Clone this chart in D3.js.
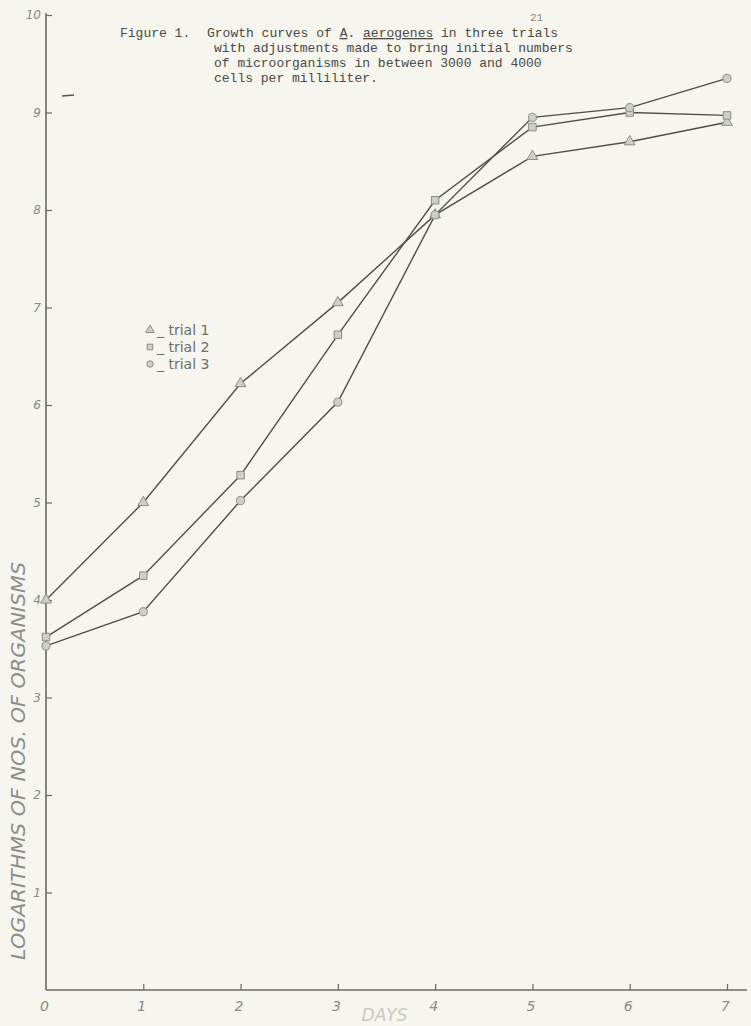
<!DOCTYPE html>
<html><head><meta charset="utf-8">
<script src="https://cdn.jsdelivr.net/npm/d3@7"></script>
<style>
html,body{margin:0;padding:0;background:#f6f5ee;}
svg{display:block;}
</style></head>
<body>
<svg id="chart" width="751" height="1026"></svg>
<script>
// ---- data ----
const days = [0, 1, 2, 3, 4, 5, 6, 7];
const trial1 = [4.0, 5.0, 6.22, 7.05, 7.95, 8.55, 8.7, 8.9];
const trial2 = [3.62, 4.25, 5.28, 6.72, 8.1, 8.85, 9.0, 8.97];
const trial3 = [3.53, 3.88, 5.02, 6.03, 7.95, 8.95, 9.05, 9.35];
const seriesNames = ["trial 1", "trial 2", "trial 3"];
const xTicks = [0, 1, 2, 3, 4, 5, 6, 7];
const yTicks = [1, 2, 3, 4, 5, 6, 7, 8, 9, 10];
const titleLines = [
  "with adjustments made to bring initial numbers",
  "of microorganisms in between 3000 and 4000",
  "cells per milliliter."
];

const svg = d3.select("#chart");
const W = 751, H = 1026;
svg.append("rect").attr("width", W).attr("height", H).attr("fill", "#f6f5ee");

const x = d3.scaleLinear().domain([0, 7]).range([46, 727]);
const y = d3.scaleLinear().domain([0, 10]).range([990, 15]);

const axisColor = "#6a6a66";
const labelColor = "#8a8a86";

// axis lines
svg.append("line").attr("x1", x(0)).attr("x2", x(7) + 20)
  .attr("y1", y(0)).attr("y2", y(0)).attr("stroke", axisColor).attr("stroke-width", 1.6);
svg.append("line").attr("x1", x(0)).attr("x2", x(0))
  .attr("y1", y(0)).attr("y2", y(10) - 2).attr("stroke", axisColor).attr("stroke-width", 1.6);

// x axis ticks (inward)
const gx = svg.append("g").attr("transform", `translate(0,${y(0)})`)
  .call(d3.axisBottom(x).tickValues(xTicks).tickSizeInner(-6).tickSizeOuter(0).tickPadding(11)
    .tickFormat(d3.format("d")));
gx.select(".domain").remove();
gx.selectAll(".tick line").attr("stroke", axisColor).attr("stroke-width", 1.2);
gx.selectAll(".tick line").filter(d => d === 0).remove();
gx.selectAll(".tick text").attr("fill", labelColor).attr("font-family", "DejaVu Sans")
  .attr("font-style", "italic").attr("font-size", 14).attr("dx", -2);

// y axis ticks (inward)
const gy = svg.append("g").attr("transform", `translate(${x(0)},0)`)
  .call(d3.axisLeft(y).tickValues(yTicks).tickSizeInner(-6).tickSizeOuter(0).tickPadding(5)
    .tickFormat(d3.format("d")));
gy.select(".domain").remove();
gy.selectAll(".tick line").attr("stroke", axisColor).attr("stroke-width", 1.2);
gy.selectAll(".tick text").attr("fill", labelColor).attr("font-family", "DejaVu Sans")
  .attr("font-style", "italic").attr("font-size", 12);

// axis titles
svg.append("text")
  .attr("transform", `translate(25,${(y(0.3) + y(4.4)) / 2}) rotate(-90)`)
  .attr("text-anchor", "middle").attr("fill", "#8d8d89")
  .attr("font-family", "DejaVu Sans").attr("font-style", "italic").attr("font-size", 19)
  .attr("textLength", 398).attr("lengthAdjust", "spacingAndGlyphs")
  .text("LOGARITHMS OF NOS. OF ORGANISMS");
svg.append("text").attr("x", (x(3) + x(4)) / 2 - 2).attr("y", 1021)
  .attr("text-anchor", "middle").attr("fill", "#c9c9c2")
  .attr("font-family", "DejaVu Sans").attr("font-style", "italic").attr("font-size", 17)
  .text("DAYS");

// series
const series = [trial1, trial2, trial3].map((vals, i) => ({
  name: seriesNames[i], shape: i,
  pts: days.map((d, j) => ({ d, v: vals[j] }))
}));
const line = d3.line().x(p => x(p.d)).y(p => y(p.v));
svg.append("g").selectAll("path").data(series).join("path")
  .attr("d", s => line(s.pts)).attr("fill", "none")
  .attr("stroke", "#4f4f4c").attr("stroke-width", 1.4);

const symTypes = [d3.symbolTriangle, d3.symbolSquare, d3.symbolCircle];
const symSizes = [50, 56, 52];
const mfill = "#cfcfca", mstroke = "#8c8c88";
series.forEach(s => {
  svg.append("g").selectAll("path").data(s.pts).join("path")
    .attr("transform", p => `translate(${x(p.d)},${y(p.v)})`)
    .attr("d", d3.symbol().type(symTypes[s.shape]).size(symSizes[s.shape]))
    .attr("fill", mfill).attr("stroke", mstroke).attr("stroke-width", 1);
});

// legend
const lg = svg.append("g").attr("transform", "translate(150,330)");
series.forEach((s, i) => {
  const row = lg.append("g").attr("transform", `translate(0,${i * 17})`);
  row.append("path").attr("d", d3.symbol().type(symTypes[i]).size(32))
    .attr("fill", mfill).attr("stroke", mstroke).attr("stroke-width", 1);
  row.append("text").attr("x", 7).attr("y", 5).attr("fill", "#6e6e6a")
    .attr("font-family", "DejaVu Sans").attr("font-size", 14)
    .text("_ " + s.name);
});

// page number and caption
svg.append("text").attr("x", 530).attr("y", 21).attr("fill", "#8a8a86")
  .attr("font-family", "Liberation Mono").attr("font-size", 11).text("21");
const cap = svg.append("g").attr("font-family", "Liberation Mono").attr("font-size", 13)
  .attr("fill", "#4a4a47");
cap.append("text").attr("x", 120).attr("y", 37).text("Figure 1.");
const t1 = cap.append("text").attr("x", 207).attr("y", 37).attr("xml:space", "preserve");
t1.append("tspan").text("Growth curves of ");
t1.append("tspan").attr("text-decoration", "underline").text("A");
t1.append("tspan").text(". ");
t1.append("tspan").attr("text-decoration", "underline").text("aerogenes");
t1.append("tspan").text(" in three trials");
cap.selectAll("text.ln").data(titleLines).join("text").attr("class", "ln")
  .attr("x", 214).attr("y", (d, i) => 52 + i * 15).text(d => d);

// stray pen mark
svg.append("line").attr("x1", 62).attr("x2", 74).attr("y1", 96).attr("y2", 95)
  .attr("stroke", "#55554f").attr("stroke-width", 1.5);
</script>
</body></html>
